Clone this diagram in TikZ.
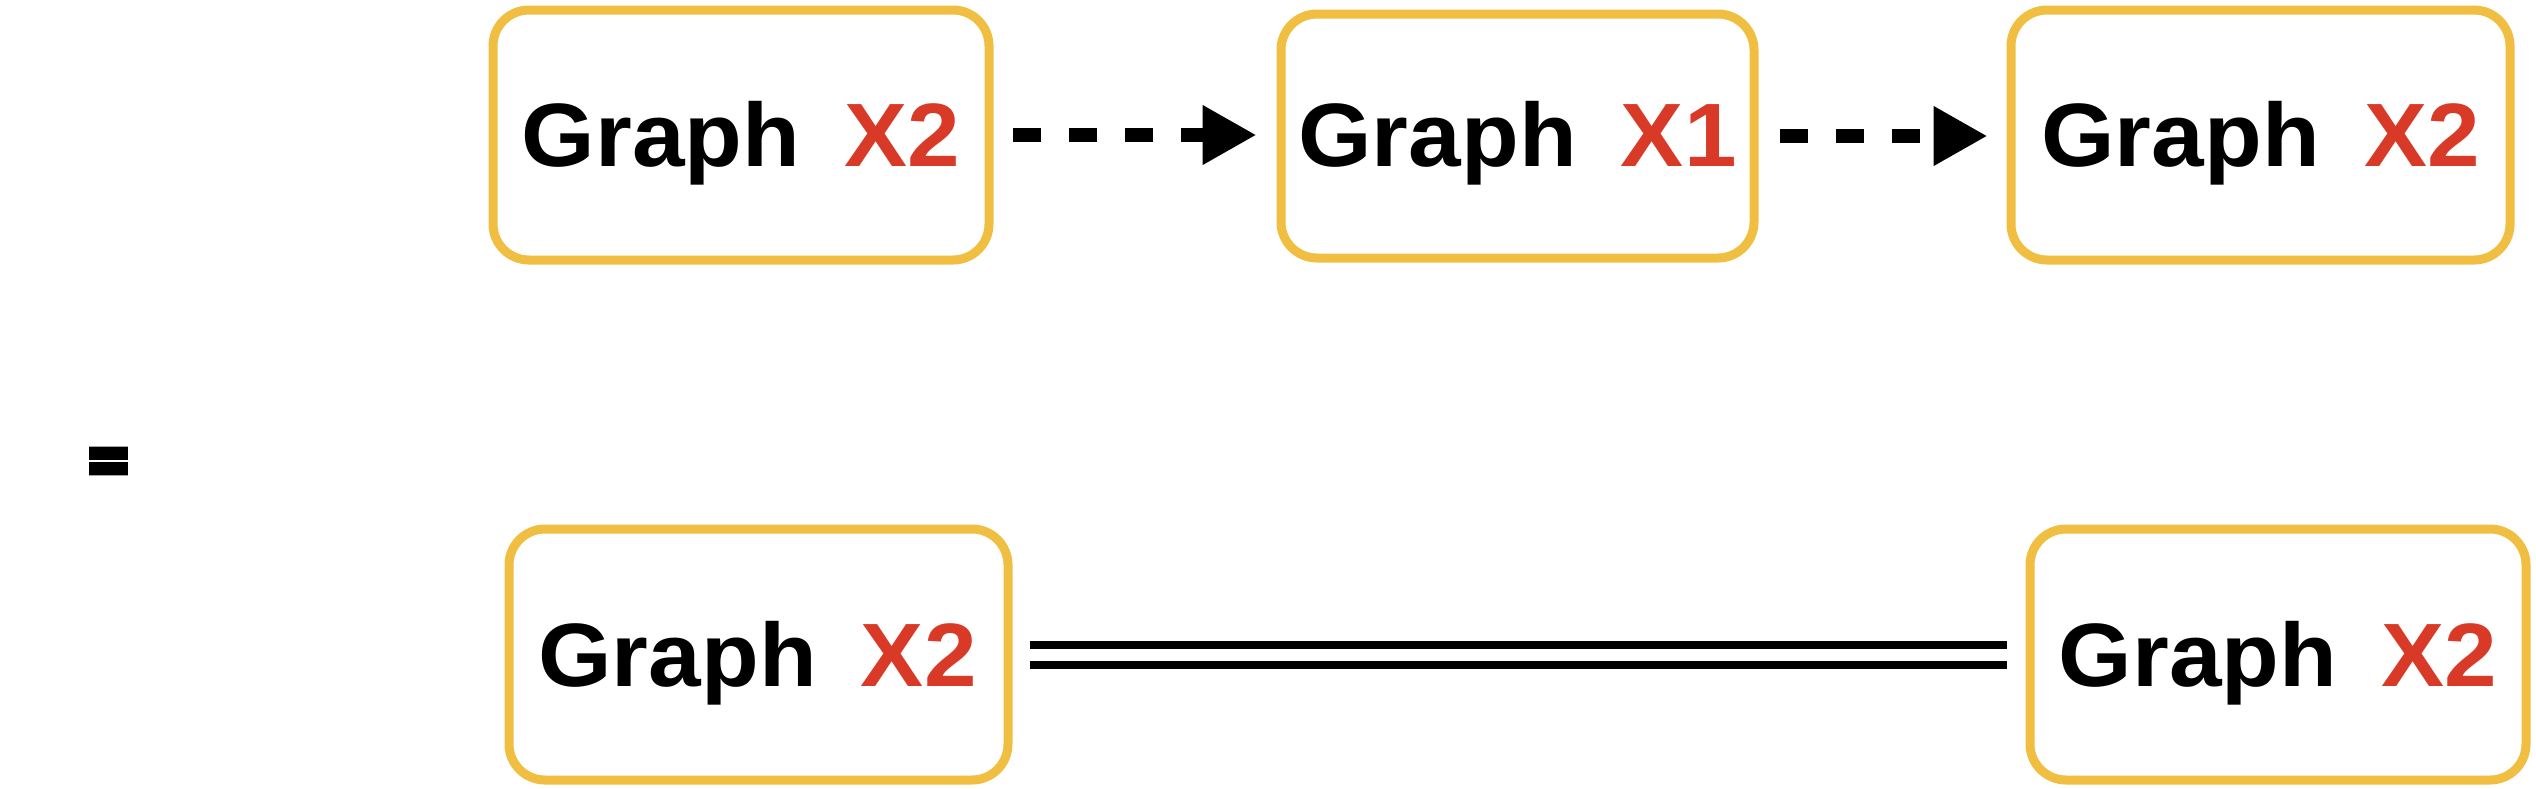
\documentclass[tikz,border=0pt]{standalone}
\usepackage{fontspec}
\usepackage{graphicx}
\newfontfamily\handfont[FakeStretch=1.05]{Liberation Sans}
\newfontfamily\eqfont[FakeBold=12]{Liberation Sans Bold}
\usetikzlibrary{arrows.meta}
\definecolor{boxyellow}{HTML}{F0BE41}
\definecolor{xred}{HTML}{D93A27}
\newcommand{\gtext}[1]{Graph\hspace{9pt} \textcolor{xred}{#1}}
\begin{document}
\begin{tikzpicture}[x=0.5pt,y=-0.5pt,
  gbox/.style={draw=boxyellow, line width=4.5pt, rounded corners=18pt, inner sep=0pt},
  glabel/.style={anchor=base, inner sep=0pt, font=\handfont\bfseries\fontsize{45}{54}\selectfont},
  dasharrow/.style={line width=7pt, dash pattern=on 14pt off 14pt, -{Triangle[length=27pt,width=28pt]}},
  eqline/.style={double, double distance=6pt, line width=4pt}]
\useasboundingbox (0,0) rectangle (2536,788);
% top row
\node[gbox, minimum width=248pt, minimum height=125pt] (b1) at (741,135) {};
\node[gbox, minimum width=236.5pt, minimum height=122pt] (b2) at (1517.5,136) {};
\node[gbox, minimum width=249.5pt, minimum height=125pt] (b3) at (2260.5,135) {};
\node[glabel] (t1) at (741,166) {\gtext{X2}};
\node[glabel] (t2) at (1517.5,166) {\gtext{X1}};
\node[glabel] (t3) at (2260.5,166) {\gtext{X2}};
% bottom row
\node[gbox, minimum width=249.5pt, minimum height=125.5pt] (b4) at (758.5,654.5) {};
\node[gbox, minimum width=248pt, minimum height=125.5pt] (b5) at (2278,654.5) {};
\node[glabel] (t4) at (757.5,686) {\gtext{X2}};
\node[glabel] (t5) at (2278,686) {\gtext{X2}};
% equals sign
\node[inner sep=0pt] (eq) at (108.5,465) {\scalebox{0.78}[0.72]{\eqfont\fontsize{40}{40}\selectfont =}};
% connectors
\draw[dasharrow, shorten <=9.5pt, shorten >=10pt] (b1.east) -- (b2.west |- b1.east);
\draw[dasharrow, shorten <=10.5pt, shorten >=9.5pt] (b2.east) -- (b3.west |- b2.east);
\draw[eqline, shorten <=8.75pt, shorten >=9.5pt] (b4.east) -- (b5.west);
\end{tikzpicture}
\end{document}
